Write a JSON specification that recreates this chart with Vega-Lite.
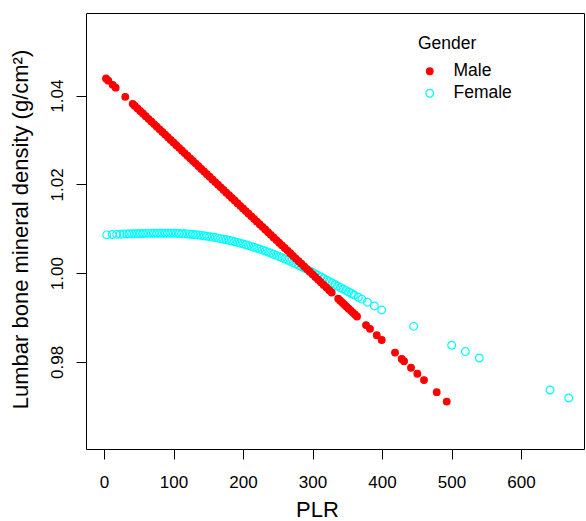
{
  "$schema": "https://vega.github.io/schema/vega-lite/v6.json",
  "autosize": {"type": "none"},
  "width": 498,
  "height": 436,
  "padding": {"left": 86, "top": 13, "right": 2, "bottom": 72},
  "background": "white",
  "config": {
    "font": "Liberation Sans",
    "view": {"stroke": "#000000", "strokeWidth": 1},
    "axis": {"grid": false, "domain": false, "tickColor": "#000000", "tickWidth": 1, "tickSize": 10, "labelColor": "#000000", "titleColor": "#000000", "labelFontSize": 17, "titleFontSize": 22, "titleFontWeight": "normal"},
    "legend": {"labelFontSize": 17.5, "titleFontSize": 17.5, "titleFontWeight": "normal", "labelColor": "#000000", "titleColor": "#000000"}
  },
  "data": {
    "values": [
      {"PLR": 3.9, "BMD": 1.00863, "Gender": "Female"},
      {"PLR": 11.9, "BMD": 1.0087, "Gender": "Female"},
      {"PLR": 18.3, "BMD": 1.00874, "Gender": "Female"},
      {"PLR": 23, "BMD": 1.00878, "Gender": "Female"},
      {"PLR": 27.8, "BMD": 1.00881, "Gender": "Female"},
      {"PLR": 32.7, "BMD": 1.00884, "Gender": "Female"},
      {"PLR": 36, "BMD": 1.00885, "Gender": "Female"},
      {"PLR": 40, "BMD": 1.00888, "Gender": "Female"},
      {"PLR": 44, "BMD": 1.00889, "Gender": "Female"},
      {"PLR": 48, "BMD": 1.00891, "Gender": "Female"},
      {"PLR": 52, "BMD": 1.00893, "Gender": "Female"},
      {"PLR": 56, "BMD": 1.00894, "Gender": "Female"},
      {"PLR": 60, "BMD": 1.00896, "Gender": "Female"},
      {"PLR": 64, "BMD": 1.00897, "Gender": "Female"},
      {"PLR": 68, "BMD": 1.00898, "Gender": "Female"},
      {"PLR": 72, "BMD": 1.00898, "Gender": "Female"},
      {"PLR": 76, "BMD": 1.00899, "Gender": "Female"},
      {"PLR": 80, "BMD": 1.009, "Gender": "Female"},
      {"PLR": 84, "BMD": 1.009, "Gender": "Female"},
      {"PLR": 88, "BMD": 1.009, "Gender": "Female"},
      {"PLR": 92, "BMD": 1.009, "Gender": "Female"},
      {"PLR": 96, "BMD": 1.00899, "Gender": "Female"},
      {"PLR": 100, "BMD": 1.00898, "Gender": "Female"},
      {"PLR": 104, "BMD": 1.00896, "Gender": "Female"},
      {"PLR": 108, "BMD": 1.00894, "Gender": "Female"},
      {"PLR": 112, "BMD": 1.0089, "Gender": "Female"},
      {"PLR": 116, "BMD": 1.00886, "Gender": "Female"},
      {"PLR": 120, "BMD": 1.00882, "Gender": "Female"},
      {"PLR": 124, "BMD": 1.00877, "Gender": "Female"},
      {"PLR": 128, "BMD": 1.00871, "Gender": "Female"},
      {"PLR": 132, "BMD": 1.00865, "Gender": "Female"},
      {"PLR": 136, "BMD": 1.00858, "Gender": "Female"},
      {"PLR": 140, "BMD": 1.0085, "Gender": "Female"},
      {"PLR": 144, "BMD": 1.00842, "Gender": "Female"},
      {"PLR": 148, "BMD": 1.00833, "Gender": "Female"},
      {"PLR": 152, "BMD": 1.00823, "Gender": "Female"},
      {"PLR": 156, "BMD": 1.00813, "Gender": "Female"},
      {"PLR": 160, "BMD": 1.00802, "Gender": "Female"},
      {"PLR": 164, "BMD": 1.0079, "Gender": "Female"},
      {"PLR": 168, "BMD": 1.00778, "Gender": "Female"},
      {"PLR": 172, "BMD": 1.00766, "Gender": "Female"},
      {"PLR": 176, "BMD": 1.00752, "Gender": "Female"},
      {"PLR": 180, "BMD": 1.00738, "Gender": "Female"},
      {"PLR": 184, "BMD": 1.00723, "Gender": "Female"},
      {"PLR": 188, "BMD": 1.00708, "Gender": "Female"},
      {"PLR": 192, "BMD": 1.00692, "Gender": "Female"},
      {"PLR": 196, "BMD": 1.00675, "Gender": "Female"},
      {"PLR": 200, "BMD": 1.00658, "Gender": "Female"},
      {"PLR": 204, "BMD": 1.0064, "Gender": "Female"},
      {"PLR": 208, "BMD": 1.00622, "Gender": "Female"},
      {"PLR": 212, "BMD": 1.00602, "Gender": "Female"},
      {"PLR": 216, "BMD": 1.00582, "Gender": "Female"},
      {"PLR": 220, "BMD": 1.00562, "Gender": "Female"},
      {"PLR": 224, "BMD": 1.00541, "Gender": "Female"},
      {"PLR": 228, "BMD": 1.00519, "Gender": "Female"},
      {"PLR": 232, "BMD": 1.00497, "Gender": "Female"},
      {"PLR": 236, "BMD": 1.00474, "Gender": "Female"},
      {"PLR": 240, "BMD": 1.0045, "Gender": "Female"},
      {"PLR": 244, "BMD": 1.00426, "Gender": "Female"},
      {"PLR": 248, "BMD": 1.00401, "Gender": "Female"},
      {"PLR": 252, "BMD": 1.00375, "Gender": "Female"},
      {"PLR": 256, "BMD": 1.00349, "Gender": "Female"},
      {"PLR": 260, "BMD": 1.00322, "Gender": "Female"},
      {"PLR": 264, "BMD": 1.00294, "Gender": "Female"},
      {"PLR": 268, "BMD": 1.00266, "Gender": "Female"},
      {"PLR": 272, "BMD": 1.00238, "Gender": "Female"},
      {"PLR": 276, "BMD": 1.00208, "Gender": "Female"},
      {"PLR": 280, "BMD": 1.00178, "Gender": "Female"},
      {"PLR": 284, "BMD": 1.00147, "Gender": "Female"},
      {"PLR": 288, "BMD": 1.00116, "Gender": "Female"},
      {"PLR": 292, "BMD": 1.00084, "Gender": "Female"},
      {"PLR": 296, "BMD": 1.00051, "Gender": "Female"},
      {"PLR": 300, "BMD": 1.00017, "Gender": "Female"},
      {"PLR": 304, "BMD": 0.99983, "Gender": "Female"},
      {"PLR": 308, "BMD": 0.99949, "Gender": "Female"},
      {"PLR": 312, "BMD": 0.99915, "Gender": "Female"},
      {"PLR": 316, "BMD": 0.99881, "Gender": "Female"},
      {"PLR": 320, "BMD": 0.99847, "Gender": "Female"},
      {"PLR": 324, "BMD": 0.99813, "Gender": "Female"},
      {"PLR": 328, "BMD": 0.99779, "Gender": "Female"},
      {"PLR": 332, "BMD": 0.99745, "Gender": "Female"},
      {"PLR": 336, "BMD": 0.99711, "Gender": "Female"},
      {"PLR": 340, "BMD": 0.99677, "Gender": "Female"},
      {"PLR": 344, "BMD": 0.99643, "Gender": "Female"},
      {"PLR": 348, "BMD": 0.99609, "Gender": "Female"},
      {"PLR": 352, "BMD": 0.99575, "Gender": "Female"},
      {"PLR": 356, "BMD": 0.99541, "Gender": "Female"},
      {"PLR": 360, "BMD": 0.99507, "Gender": "Female"},
      {"PLR": 366, "BMD": 0.99456, "Gender": "Female"},
      {"PLR": 371, "BMD": 0.99414, "Gender": "Female"},
      {"PLR": 379, "BMD": 0.99346, "Gender": "Female"},
      {"PLR": 389, "BMD": 0.99261, "Gender": "Female"},
      {"PLR": 399.5, "BMD": 0.99171, "Gender": "Female"},
      {"PLR": 445.6, "BMD": 0.988, "Gender": "Female"},
      {"PLR": 500.2, "BMD": 0.98375, "Gender": "Female"},
      {"PLR": 519.9, "BMD": 0.98232, "Gender": "Female"},
      {"PLR": 540, "BMD": 0.98088, "Gender": "Female"},
      {"PLR": 641.7, "BMD": 0.97366, "Gender": "Female"},
      {"PLR": 668.6, "BMD": 0.97185, "Gender": "Female"},
      {"PLR": 2.9, "BMD": 1.04387, "Gender": "Male"},
      {"PLR": 6.2, "BMD": 1.04338, "Gender": "Male"},
      {"PLR": 12.5, "BMD": 1.04244, "Gender": "Male"},
      {"PLR": 16.8, "BMD": 1.0418, "Gender": "Male"},
      {"PLR": 30.6, "BMD": 1.03975, "Gender": "Male"},
      {"PLR": 41.3, "BMD": 1.03816, "Gender": "Male"},
      {"PLR": 44, "BMD": 1.03776, "Gender": "Male"},
      {"PLR": 48, "BMD": 1.03717, "Gender": "Male"},
      {"PLR": 52, "BMD": 1.03657, "Gender": "Male"},
      {"PLR": 56, "BMD": 1.03598, "Gender": "Male"},
      {"PLR": 60, "BMD": 1.03539, "Gender": "Male"},
      {"PLR": 64, "BMD": 1.03479, "Gender": "Male"},
      {"PLR": 68, "BMD": 1.0342, "Gender": "Male"},
      {"PLR": 72, "BMD": 1.0336, "Gender": "Male"},
      {"PLR": 76, "BMD": 1.03301, "Gender": "Male"},
      {"PLR": 80, "BMD": 1.03241, "Gender": "Male"},
      {"PLR": 84, "BMD": 1.03182, "Gender": "Male"},
      {"PLR": 88, "BMD": 1.03123, "Gender": "Male"},
      {"PLR": 92, "BMD": 1.03063, "Gender": "Male"},
      {"PLR": 96, "BMD": 1.03004, "Gender": "Male"},
      {"PLR": 100, "BMD": 1.02944, "Gender": "Male"},
      {"PLR": 104, "BMD": 1.02885, "Gender": "Male"},
      {"PLR": 108, "BMD": 1.02825, "Gender": "Male"},
      {"PLR": 112, "BMD": 1.02766, "Gender": "Male"},
      {"PLR": 116, "BMD": 1.02707, "Gender": "Male"},
      {"PLR": 120, "BMD": 1.02647, "Gender": "Male"},
      {"PLR": 124, "BMD": 1.02588, "Gender": "Male"},
      {"PLR": 128, "BMD": 1.02528, "Gender": "Male"},
      {"PLR": 132, "BMD": 1.02469, "Gender": "Male"},
      {"PLR": 136, "BMD": 1.02409, "Gender": "Male"},
      {"PLR": 140, "BMD": 1.0235, "Gender": "Male"},
      {"PLR": 144, "BMD": 1.02291, "Gender": "Male"},
      {"PLR": 148, "BMD": 1.02231, "Gender": "Male"},
      {"PLR": 152, "BMD": 1.02172, "Gender": "Male"},
      {"PLR": 156, "BMD": 1.02112, "Gender": "Male"},
      {"PLR": 160, "BMD": 1.02053, "Gender": "Male"},
      {"PLR": 164, "BMD": 1.01993, "Gender": "Male"},
      {"PLR": 168, "BMD": 1.01934, "Gender": "Male"},
      {"PLR": 172, "BMD": 1.01875, "Gender": "Male"},
      {"PLR": 176, "BMD": 1.01815, "Gender": "Male"},
      {"PLR": 180, "BMD": 1.01756, "Gender": "Male"},
      {"PLR": 184, "BMD": 1.01696, "Gender": "Male"},
      {"PLR": 188, "BMD": 1.01637, "Gender": "Male"},
      {"PLR": 192, "BMD": 1.01577, "Gender": "Male"},
      {"PLR": 196, "BMD": 1.01518, "Gender": "Male"},
      {"PLR": 200, "BMD": 1.01459, "Gender": "Male"},
      {"PLR": 204, "BMD": 1.01399, "Gender": "Male"},
      {"PLR": 208, "BMD": 1.0134, "Gender": "Male"},
      {"PLR": 212, "BMD": 1.0128, "Gender": "Male"},
      {"PLR": 216, "BMD": 1.01221, "Gender": "Male"},
      {"PLR": 220, "BMD": 1.01161, "Gender": "Male"},
      {"PLR": 224, "BMD": 1.01102, "Gender": "Male"},
      {"PLR": 228, "BMD": 1.01043, "Gender": "Male"},
      {"PLR": 232, "BMD": 1.00983, "Gender": "Male"},
      {"PLR": 236, "BMD": 1.00924, "Gender": "Male"},
      {"PLR": 240, "BMD": 1.00864, "Gender": "Male"},
      {"PLR": 244, "BMD": 1.00805, "Gender": "Male"},
      {"PLR": 248, "BMD": 1.00745, "Gender": "Male"},
      {"PLR": 252, "BMD": 1.00686, "Gender": "Male"},
      {"PLR": 256, "BMD": 1.00627, "Gender": "Male"},
      {"PLR": 260, "BMD": 1.00567, "Gender": "Male"},
      {"PLR": 264, "BMD": 1.00508, "Gender": "Male"},
      {"PLR": 268, "BMD": 1.00448, "Gender": "Male"},
      {"PLR": 272, "BMD": 1.00389, "Gender": "Male"},
      {"PLR": 276, "BMD": 1.00329, "Gender": "Male"},
      {"PLR": 280, "BMD": 1.0027, "Gender": "Male"},
      {"PLR": 284, "BMD": 1.00211, "Gender": "Male"},
      {"PLR": 288, "BMD": 1.00151, "Gender": "Male"},
      {"PLR": 292, "BMD": 1.00092, "Gender": "Male"},
      {"PLR": 296, "BMD": 1.00032, "Gender": "Male"},
      {"PLR": 300, "BMD": 0.99973, "Gender": "Male"},
      {"PLR": 304, "BMD": 0.99913, "Gender": "Male"},
      {"PLR": 308, "BMD": 0.99854, "Gender": "Male"},
      {"PLR": 312, "BMD": 0.99795, "Gender": "Male"},
      {"PLR": 316, "BMD": 0.99735, "Gender": "Male"},
      {"PLR": 320, "BMD": 0.99676, "Gender": "Male"},
      {"PLR": 324, "BMD": 0.99616, "Gender": "Male"},
      {"PLR": 327.6, "BMD": 0.99563, "Gender": "Male"},
      {"PLR": 337, "BMD": 0.99423, "Gender": "Male"},
      {"PLR": 340, "BMD": 0.99379, "Gender": "Male"},
      {"PLR": 343, "BMD": 0.99334, "Gender": "Male"},
      {"PLR": 346, "BMD": 0.9929, "Gender": "Male"},
      {"PLR": 349, "BMD": 0.99245, "Gender": "Male"},
      {"PLR": 352, "BMD": 0.992, "Gender": "Male"},
      {"PLR": 355, "BMD": 0.99156, "Gender": "Male"},
      {"PLR": 358, "BMD": 0.99111, "Gender": "Male"},
      {"PLR": 361, "BMD": 0.99067, "Gender": "Male"},
      {"PLR": 364, "BMD": 0.99022, "Gender": "Male"},
      {"PLR": 377, "BMD": 0.98829, "Gender": "Male"},
      {"PLR": 382.7, "BMD": 0.98744, "Gender": "Male"},
      {"PLR": 392.4, "BMD": 0.986, "Gender": "Male"},
      {"PLR": 399.6, "BMD": 0.98493, "Gender": "Male"},
      {"PLR": 418.7, "BMD": 0.98209, "Gender": "Male"},
      {"PLR": 428.3, "BMD": 0.98067, "Gender": "Male"},
      {"PLR": 431.7, "BMD": 0.98016, "Gender": "Male"},
      {"PLR": 441.7, "BMD": 0.97868, "Gender": "Male"},
      {"PLR": 450.8, "BMD": 0.97733, "Gender": "Male"},
      {"PLR": 460.4, "BMD": 0.9759, "Gender": "Male"},
      {"PLR": 478.7, "BMD": 0.97318, "Gender": "Male"},
      {"PLR": 493.1, "BMD": 0.97104, "Gender": "Male"}
    ]
  },
  "mark": {"type": "point", "shape": "circle", "opacity": 1, "strokeWidth": 1.2},
  "encoding": {
    "x": {
      "field": "PLR", "type": "quantitative",
      "scale": {"domain": [-25.9, 690.6], "nice": false, "zero": false},
      "axis": {"values": [0, 100, 200, 300, 400, 500, 600], "title": "PLR", "labelBaseline": "alphabetic", "labelPadding": 28, "titleX": 231, "titleY": 67, "titleBaseline": "alphabetic", "titleAlign": "center", "titleAnchor": null}
    },
    "y": {
      "field": "BMD", "type": "quantitative",
      "scale": {"domain": [0.96036, 1.05864], "nice": false, "zero": false},
      "axis": {"values": [0.98, 1.0, 1.02, 1.04], "format": ".2f", "title": "Lumbar bone mineral density (g/cm²)", "labelAngle": -90, "labelAlign": "center", "labelBaseline": "alphabetic", "labelPadding": 14, "titleX": -59, "titleY": 216, "titleAngle": -90, "titleAlign": "center", "titleBaseline": "alphabetic"}
    },
    "fill": {
      "field": "Gender", "type": "nominal",
      "scale": {"domain": ["Male", "Female"], "range": ["#FF0000", "transparent"]},
      "legend": {"title": "Gender", "orient": "none", "legendX": 332, "legendY": 22, "padding": 0, "titlePadding": 10, "rowPadding": 3, "symbolOffset": 3, "labelOffset": 15, "symbolStrokeWidth": 1.2}
    },
    "stroke": {
      "field": "Gender", "type": "nominal",
      "scale": {"domain": ["Male", "Female"], "range": ["#FF0000", "#00FFFF"]},
      "legend": {"title": "Gender", "orient": "none", "legendX": 332, "legendY": 22, "padding": 0, "titlePadding": 10, "rowPadding": 3, "symbolOffset": 3, "labelOffset": 15, "symbolStrokeWidth": 1.2}
    },
    "size": {
      "field": "Gender", "type": "nominal",
      "scale": {"domain": ["Male", "Female"], "range": [44, 60]},
      "legend": {"title": "Gender", "orient": "none", "legendX": 332, "legendY": 22, "padding": 0, "titlePadding": 10, "rowPadding": 3, "symbolOffset": 3, "labelOffset": 15, "symbolStrokeWidth": 1.2}
    }
  }
}
